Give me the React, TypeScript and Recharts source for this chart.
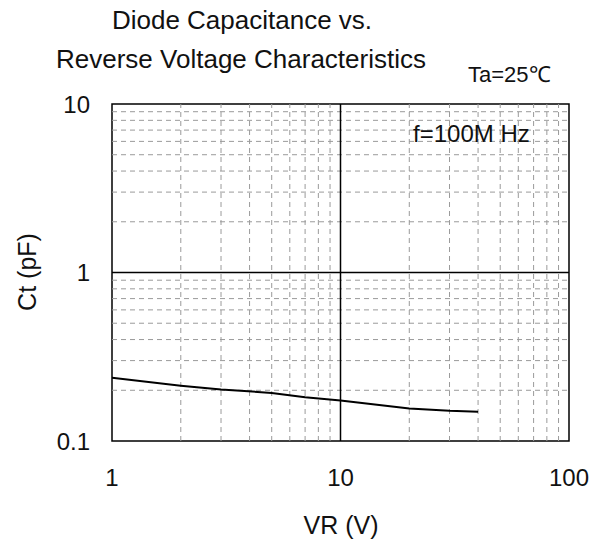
import React from 'react';
import { LineChart, Line, XAxis, YAxis, ReferenceLine, ReferenceArea } from 'recharts';

// reverse voltage (V) vs diode capacitance (pF)
const vr = [1, 2, 3, 5, 7, 10, 20, 30, 40];
const ct = [0.237, 0.213, 0.202, 0.193, 0.182, 0.174, 0.156, 0.151, 0.149];

const xTicks = [1, 10, 100];
const yTicks = [0.1, 1, 10];
const xMinor = [2, 3, 4, 5, 6, 7, 8, 9, 20, 30, 40, 50, 60, 70, 80, 90];
const yMinor = [0.2, 0.3, 0.4, 0.5, 0.6, 0.7, 0.8, 0.9, 2, 3, 4, 5, 6, 7, 8, 9];
const tickLabels: Record<number, string> = { 0.1: '0.1', 1: '1', 10: '10', 100: '100' };

const data = vr.map((v, i) => ({ vr: v, ct: ct[i] }));

const FONT = '"Liberation Sans", Arial, sans-serif';
const INK = '#111';

const XTick = ({ x, y, payload }: any) => (
  <text x={x} y={y + 45} textAnchor="middle" fontFamily={FONT} fontSize={24} fill={INK}>
    {tickLabels[payload.value] ?? payload.value}
  </text>
);

const YTick = ({ x, y, payload }: any) => (
  <text x={x - 22} y={y + 8.5} textAnchor="end" fontFamily={FONT} fontSize={24} fill={INK}>
    {tickLabels[payload.value] ?? payload.value}
  </text>
);

const App: React.FC = () => {
  return (
    <div style={{ position: 'absolute', left: 0, top: 0, width: 598, height: 545, background: '#fff' }}>
      <LineChart width={598} height={545} data={data} margin={{ top: 104, right: 29, bottom: 0, left: 0 }}>
        <XAxis
          dataKey="vr"
          type="number"
          scale="log"
          domain={[1, 100]}
          ticks={xTicks}
          allowDataOverflow
          height={104}
          axisLine={false}
          tickLine={false}
          tickSize={0}
          tickMargin={0}
          tick={<XTick />}
        />
        <YAxis
          type="number"
          scale="log"
          domain={[0.1, 10]}
          ticks={yTicks}
          allowDataOverflow
          width={112}
          axisLine={false}
          tickLine={false}
          tickSize={0}
          tickMargin={0}
          tick={<YTick />}
        />
        {xMinor.map(v => (
          <ReferenceLine key={'x' + v} x={v} stroke="#9a9a9a" strokeDasharray="5 4" strokeWidth={1} />
        ))}
        {yMinor.map(v => (
          <ReferenceLine key={'y' + v} y={v} stroke="#9a9a9a" strokeDasharray="5 4" strokeWidth={1} />
        ))}
        <ReferenceLine x={10} stroke="#000" strokeWidth={1.5} />
        <ReferenceLine y={1} stroke="#000" strokeWidth={1.5} />
        <ReferenceArea x1={1} x2={100} y1={0.1} y2={10} fill="none" fillOpacity={0} stroke="#000" strokeWidth={1.5} />
        <Line
          type="linear"
          dataKey="ct"
          stroke="#000"
          strokeWidth={2}
          dot={false}
          isAnimationActive={false}
        />
      </LineChart>
      <svg width={598} height={545} style={{ position: 'absolute', left: 0, top: 0, pointerEvents: 'none' }}>
        <g fontFamily={FONT} fill={INK}>
          <text x={242} y={29} textAnchor="middle" fontSize={26}>Diode Capacitance vs.</text>
          <text x={241} y={68} textAnchor="middle" fontSize={26}>Reverse Voltage Characteristics</text>
          <text x={468} y={82} fontSize={22}>Ta=25℃</text>
          <text x={413} y={142} fontSize={24}>f=100M Hz</text>
          <text x={341} y={534} textAnchor="middle" fontSize={25}>VR (V)</text>
          <text x={36} y={272} textAnchor="middle" fontSize={25} transform="rotate(-90 36 272)">Ct (pF)</text>
        </g>
      </svg>
    </div>
  );
};

export default App;
